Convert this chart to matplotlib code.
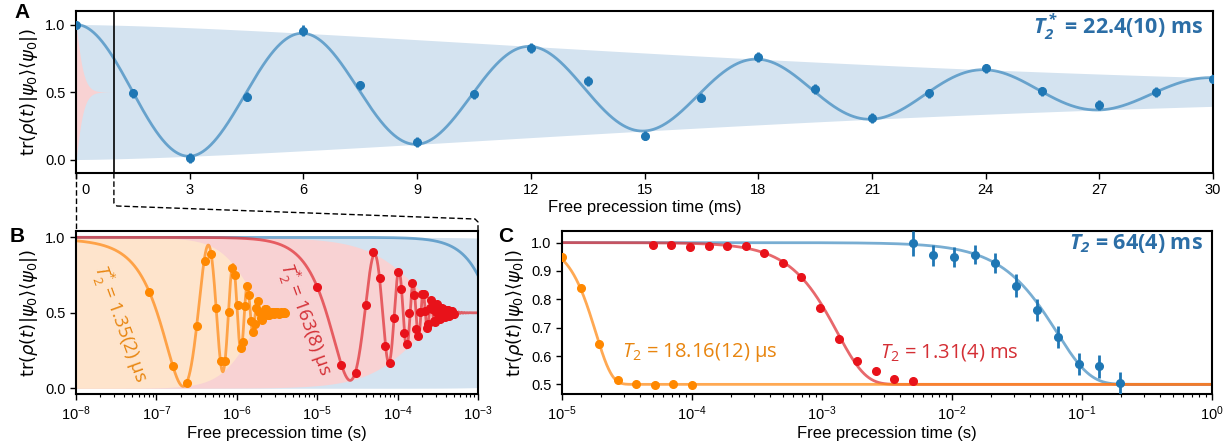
import numpy as np
import matplotlib
matplotlib.use('Agg')
import matplotlib.pyplot as plt
import matplotlib.transforms as mtransforms
from matplotlib.lines import Line2D

plt.rcParams['font.family'] = ['Liberation Sans', 'DejaVu Sans']
plt.rcParams['mathtext.fontset'] = 'custom'
plt.rcParams['mathtext.rm'] = 'DejaVu Sans'
plt.rcParams['mathtext.it'] = 'DejaVu Sans:italic'
plt.rcParams['mathtext.bf'] = 'Open Sans:bold:italic'
plt.rcParams['mathtext.cal'] = 'Open Sans:italic'
plt.rcParams['mathtext.sf'] = 'Open Sans'

# ---------------- data: panel A (Ramsey, blue) ----------------
tA_ms = [0, 1.5, 3, 4.5, 6, 7.5, 9, 10.5, 12, 13.5, 15, 16.5, 18, 19.5, 21,
         22.5, 24, 25.5, 27, 28.5, 30]
yA = [1.0, 0.49, 0.01, 0.465, 0.955, 0.55, 0.13, 0.483, 0.826, 0.583, 0.176,
      0.458, 0.76, 0.522, 0.306, 0.49, 0.676, 0.505, 0.404, 0.50, 0.60]
eA = [0.02, 0.035, 0.035, 0.035, 0.04, 0.035, 0.035, 0.035, 0.035, 0.035,
      0.035, 0.035, 0.035, 0.035, 0.035, 0.035, 0.035, 0.035, 0.035, 0.035, 0.03]

# ---------------- data: panel B (Ramsey, orange & red) ----------------
tB_orange_us = [0.080, 0.159, 0.239, 0.318, 0.398, 0.477, 0.557, 0.636, 0.716,
                0.795, 0.875, 0.954, 1.034, 1.113, 1.193, 1.272, 1.352, 1.431,
                1.511, 1.590, 1.670, 1.749, 1.829, 1.908, 1.988, 2.067, 2.147,
                2.226, 2.306, 2.385, 2.465, 2.544, 2.624, 2.703, 2.783, 2.862,
                2.942, 3.021, 3.101, 3.180, 3.260, 3.339, 3.419, 3.498, 3.578,
                3.657, 3.737, 3.816, 3.896, 3.975]
yB_orange = [0.64, 0.15, 0.037, 0.413, 0.845, 0.889, 0.53, 0.181, 0.181, 0.503,
             0.80, 0.75, 0.552, 0.269, 0.309, 0.547, 0.68, 0.618, 0.448, 0.375,
             0.426, 0.53, 0.578, 0.507, 0.463, 0.455, 0.494, 0.527, 0.524, 0.50,
             0.484, 0.488, 0.502, 0.508, 0.505, 0.497, 0.492, 0.498, 0.506, 0.503,
             0.497, 0.495, 0.501, 0.504, 0.499, 0.496, 0.50, 0.503, 0.50, 0.498]
tB_red_us = [10, 20, 30, 40, 50, 60, 70, 80, 90, 100, 110, 120, 130, 140, 150,
             160, 170, 180, 190, 200, 210, 220, 230, 240, 250, 260, 270, 280,
             290, 300, 310, 320, 330, 340, 350, 360, 370, 380, 390, 400, 410,
             420, 430, 440, 450, 460, 470, 480, 490, 500]
yB_red = [0.673, 0.154, 0.099, 0.552, 0.90, 0.728, 0.28, 0.17, 0.468, 0.772,
          0.655, 0.368, 0.293, 0.497, 0.70, 0.618, 0.393, 0.348, 0.503, 0.624,
          0.625, 0.514, 0.402, 0.424, 0.533, 0.587, 0.528, 0.445, 0.440, 0.507,
          0.556, 0.530, 0.472, 0.457, 0.495, 0.533, 0.526, 0.489, 0.471, 0.49,
          0.518, 0.520, 0.498, 0.482, 0.49, 0.509, 0.514, 0.502, 0.489, 0.491]

# ---------------- data: panel C (spin echo) ----------------
tC_orange = [1.0e-5, 1.39e-5, 1.93e-5, 2.68e-5, 3.73e-5, 5.18e-5, 7.2e-5, 1.0e-4]
yC_orange = [0.949, 0.839, 0.641, 0.517, 0.50, 0.496, 0.501, 0.499]
tC_red = [5.0e-5, 6.95e-5, 9.65e-5, 1.34e-4, 1.86e-4, 2.59e-4, 3.6e-4, 5.0e-4,
          6.95e-4, 9.65e-4, 1.34e-3, 1.86e-3, 2.59e-3, 3.6e-3, 5.0e-3]
yC_red = [0.993, 0.993, 0.985, 0.988, 0.989, 0.988, 0.964, 0.929, 0.878, 0.769,
          0.659, 0.581, 0.546, 0.52, 0.513]
tC_blue = [5.0e-3, 7.2e-3, 1.04e-2, 1.5e-2, 2.16e-2, 3.12e-2, 4.5e-2, 6.5e-2,
           9.4e-2, 0.136, 0.197]
yC_blue = [0.998, 0.955, 0.949, 0.958, 0.929, 0.848, 0.762, 0.667, 0.572, 0.564, 0.505]
eC_blue = [0.044, 0.036, 0.035, 0.035, 0.035, 0.04, 0.04, 0.04, 0.04, 0.04, 0.04]

# ---------------- fit parameters ----------------
T2s_blue_ms, p_blue_A, period_blue_ms = 22.4, 1.5, 6.0
T2s_orange_us, p_orange_B, f_orange_MHz, t0_orange_us = 1.35, 2.0, 2.19, 0.012
T2s_red_us, p_red_B, f_red_kHz = 163.0, 1.2, 19.2
T2_orange_s, p_orange_C = 18.16e-6, 3.5
T2_red_s, p_red_C = 1.31e-3, 2.0
T2_blue_s, p_blue_C = 64e-3, 1.7

# ---------------- colours ----------------
c_blue = '#1f77b4'
c_orange_pt = '#ff8800'
c_orange_ln = '#ff8c1a'
c_red_pt = '#e8121a'
c_red_ln = '#e0353b'
fill_blue = '#d4e3f0'
fill_pink = '#f8d2d3'
fill_peach = '#fee4cc'
txt_blue = '#2c6ea6'
txt_orange = '#e8850f'
txt_red = '#d42f35'


def env_blue(t_ms):
    return np.exp(-(np.asarray(t_ms) / T2s_blue_ms) ** p_blue_A)


def fit_blue(t_ms):
    t_ms = np.asarray(t_ms)
    return 0.5 + 0.5 * env_blue(t_ms) * np.cos(2 * np.pi * t_ms / period_blue_ms)


def env_red(t_us):
    return np.exp(-(np.asarray(t_us) / T2s_red_us) ** p_red_B)


def fit_red(t_us):
    t_us = np.asarray(t_us)
    return 0.5 + 0.5 * env_red(t_us) * np.cos(2 * np.pi * f_red_kHz * 1e-3 * t_us)


def env_orange(t_us):
    return np.exp(-(np.asarray(t_us) / T2s_orange_us) ** p_orange_B)


def fit_orange(t_us):
    t_us = np.asarray(t_us)
    return 0.5 + 0.5 * env_orange(t_us) * np.cos(2 * np.pi * f_orange_MHz * (t_us + t0_orange_us))


def echo(t, T2, p):
    return 0.5 + 0.5 * np.exp(-(np.asarray(t) / T2) ** p)


W, H = 1228, 444
fig = plt.figure(figsize=(W / 100, H / 100), dpi=100)


def ax_px(l, t, r, b):
    return fig.add_axes([l / W, 1 - b / H, (r - l) / W, (b - t) / H])


axA = ax_px(76, 11, 1213, 173)
axB = ax_px(76, 231, 478, 394)
axC = ax_px(562, 231, 1212, 394)

ylab = r'$\mathrm{tr}(\rho(t)|\psi_0\rangle\langle\psi_0|)$'
tick_fs = 10.5
lab_fs = 12

for ax in (axA, axB, axC):
    for s in ax.spines.values():
        s.set_linewidth(1.5)
    ax.tick_params(labelsize=tick_fs, width=1.0, length=4)
    ax.tick_params(which='minor', width=0.8, length=2.5)

# ---------------- panel A ----------------
tt = np.linspace(0, 30, 3000)
axA.fill_between(tt, 0.5 - 0.5 * env_blue(tt), 0.5 + 0.5 * env_blue(tt),
                 color=fill_blue, lw=0, zorder=0)
tr = np.linspace(0, 1.0, 1000)
axA.fill_between(tr, 0.5 - 0.5 * env_red(tr * 1e3), 0.5 + 0.5 * env_red(tr * 1e3),
                 color=fill_pink, lw=0, zorder=0.5)
axA.plot(tt, fit_blue(tt), color=c_blue, alpha=0.6, lw=2, zorder=2)
axA.errorbar(tA_ms, yA, yerr=eA, fmt='o', ms=5.5, color=c_blue, ecolor=c_blue,
             elinewidth=2, capsize=0, zorder=3)
axA.axvline(1.0, color='k', lw=1.2, zorder=4)
axA.set_xlim(0, 30)
axA.set_ylim(-0.1, 1.1)
axA.set_xticks(np.arange(0, 31, 3))
axA.set_yticks([0.0, 0.5, 1.0])
axA.set_xlabel('Free precession time (ms)', fontsize=lab_fs, labelpad=2)
axA.set_ylabel(ylab, fontsize=13)
lbl0 = axA.get_xticklabels()[0]
lbl0.set_transform(lbl0.get_transform() +
                   mtransforms.ScaledTranslation(0.09, 0, fig.dpi_scale_trans))
axA.text(0.991, 0.905, r'$\mathbf{T_2^*}$ = 22.4(10) ms', transform=axA.transAxes,
         ha='right', va='center', fontsize=15.5, fontweight='bold',
         family='Open Sans', color=txt_blue)

# ---------------- panel B ----------------
tb = np.logspace(-8, -3, 8000)  # seconds
tb_us = tb * 1e6
axB.fill_between(tb, 0.5 - 0.5 * env_blue(tb * 1e3), 0.5 + 0.5 * env_blue(tb * 1e3),
                 color=fill_blue, lw=0, zorder=0)
axB.fill_between(tb, 0.5 - 0.5 * env_red(tb_us), 0.5 + 0.5 * env_red(tb_us),
                 color=fill_pink, lw=0, zorder=0.5)
axB.fill_between(tb, 0.5 - 0.5 * env_orange(tb_us), 0.5 + 0.5 * env_orange(tb_us),
                 color=fill_peach, lw=0, zorder=0.7)
axB.plot(tb, fit_blue(tb * 1e3), color=c_blue, alpha=0.6, lw=2, zorder=2)
axB.plot(tb, fit_red(tb_us), color=c_red_ln, alpha=0.75, lw=2, zorder=2.2)
tbo = tb[tb <= 4.2e-6]
axB.plot(tbo, fit_orange(tbo * 1e6), color=c_orange_ln, alpha=0.75, lw=2, zorder=2.4)
axB.plot(np.array(tB_red_us) * 1e-6, yB_red, 'o', ms=5.5, color=c_red_pt, zorder=3)
axB.plot(np.array(tB_orange_us) * 1e-6, yB_orange, 'o', ms=5.5, color=c_orange_pt, zorder=3)
axB.set_xscale('log')
axB.set_xlim(1e-8, 1e-3)
axB.set_ylim(-0.038, 1.042)
axB.set_yticks([0.0, 0.5, 1.0])
axB.set_xlabel('Free precession time (s)', fontsize=lab_fs, labelpad=2)
axB.set_ylabel(ylab, fontsize=13)
axB.text(3.6e-8, 0.43, r'$\mathcal{T}_{\mathsf{2}}^{*}$ = 1.35(2) µs', rotation=-70,
         rotation_mode='anchor', ha='center', va='center', fontsize=13.5,
         family='Open Sans', color=txt_orange, zorder=5)
axB.text(7.3e-6, 0.46, r'$\mathcal{T}_{\mathsf{2}}^{*}$ = 163(8) µs', rotation=-70,
         rotation_mode='anchor', ha='center', va='center', fontsize=13.5,
         family='Open Sans', color=txt_red, zorder=5)

# ---------------- panel C ----------------
tc = np.logspace(-5, 0, 3000)
axC.plot(tc, echo(tc, T2_blue_s, p_blue_C), color=c_blue, alpha=0.6, lw=2, zorder=2)
axC.plot(tc, echo(tc, T2_red_s, p_red_C), color=c_red_ln, alpha=0.75, lw=2, zorder=2.2)
axC.plot(tc, echo(tc, T2_orange_s, p_orange_C), color=c_orange_ln, alpha=0.75, lw=2, zorder=2.4)
axC.errorbar(tC_blue, yC_blue, yerr=eC_blue, fmt='o', ms=5.5, color=c_blue,
             ecolor=c_blue, elinewidth=2, capsize=0, zorder=3)
axC.plot(tC_red, yC_red, 'o', ms=5.5, color=c_red_pt, zorder=3)
axC.plot(tC_orange, yC_orange, 'o', ms=5.5, color=c_orange_pt, zorder=3)
axC.set_xscale('log')
axC.set_xlim(1e-5, 1)
axC.set_ylim(0.466, 1.041)
axC.set_yticks([0.5, 0.6, 0.7, 0.8, 0.9, 1.0])
axC.set_xlabel('Free precession time (s)', fontsize=lab_fs, labelpad=2)
axC.set_ylabel(ylab, fontsize=13)
axC.text(0.986, 0.926, r'$\mathbf{T_2}$ = 64(4) ms', transform=axC.transAxes,
         ha='right', va='center', fontsize=15.5, fontweight='bold',
         family='Open Sans', color=txt_blue)
axC.text(2.9e-5, 0.611, r'$\mathcal{T}_{\mathsf{2}}$ = 18.16(12) µs', ha='left',
         va='center', fontsize=14.5, family='Open Sans', color=txt_orange)
axC.text(2.8e-3, 0.611, r'$\mathcal{T}_{\mathsf{2}}$ = 1.31(4) ms', ha='left',
         va='center', fontsize=14.5, family='Open Sans', color=txt_red)

# ---------------- panel letters ----------------
for lbl, (x, y) in zip('ABC', [(14, 12), (10, 236), (498, 236)]):
    fig.text(x / W, 1 - y / H, lbl, fontsize=15, fontweight='bold',
             ha='left', va='center', family=['Liberation Sans', 'DejaVu Sans'])

# ---------------- zoom connectors ----------------
inv = fig.transFigure.inverted()
pA0 = axA.transData.transform((0, -0.1))
pB0 = axB.transData.transform((1e-8, 1.042))
pA1 = axA.transData.transform((1.0, -0.1))
pB1 = axB.transData.transform((1e-3, 1.042))
seg1 = inv.transform(np.array([pA0, pB0]))
seg2 = inv.transform(np.array([pA1, [pA1[0], pA1[1] - 30], [pA1[0] + 3, pA1[1] - 33],
                               [pB1[0] - 3, pB1[1] + 12], [pB1[0], pB1[1] + 9], pB1]))
for seg in (seg1, seg2):
    fig.add_artist(Line2D(seg[:, 0], seg[:, 1], transform=fig.transFigure,
                          color='k', lw=1.0, ls=(0, (4, 2))))

fig.savefig('out.png', dpi=100)
